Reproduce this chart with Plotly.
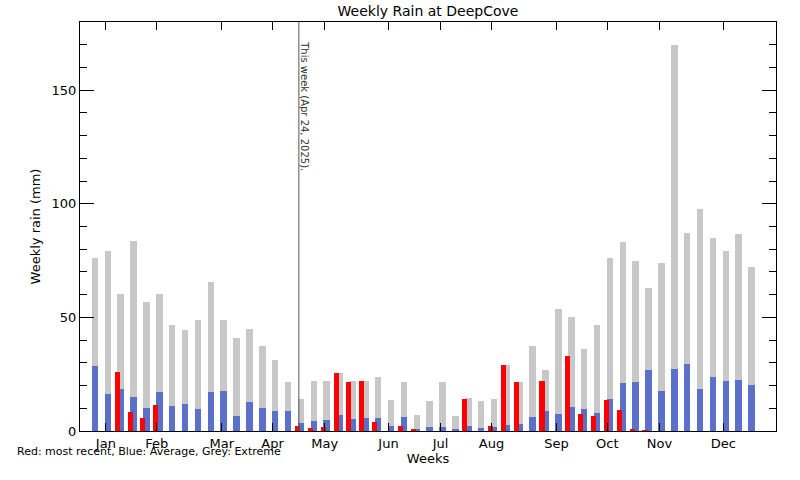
import plotly.graph_objects as go

# semanas do ano (0..51)
weeks = list(range(52))

# chuva semanal (mm)
extreme = [76.3, 79.0, 60.4, 83.8, 56.9, 60.4, 46.7, 44.5, 49.0, 65.7,
           49.0, 41.1, 45.0, 37.5, 31.3, 21.6, 14.1, 22.1, 22.1, 25.6,
           22.1, 22.1, 23.8, 13.7, 21.6, 7.1, 13.2, 21.6, 6.6, 14.6,
           13.2, 14.1, 29.1, 21.6, 37.5, 26.9, 53.8, 50.3, 36.2, 46.7,
           76.3, 83.4, 75.0, 63.1, 74.1, 169.8, 87.3, 97.5, 85.1, 79.4,
           86.9, 72.3]
average = [28.7, 16.3, 18.5, 15.0, 10.1, 17.2, 11.0, 11.9, 9.7, 17.2,
           17.6, 6.5, 12.8, 10.1, 8.8, 8.8, 3.5, 4.4, 4.9, 7.1,
           5.3, 5.7, 5.7, 2.2, 6.2, 0.9, 1.8, 1.8, 0.9, 2.2,
           1.3, 1.8, 2.6, 3.1, 6.2, 8.8, 7.5, 10.6, 9.7, 7.9,
           14.1, 21.2, 21.6, 26.9, 17.6, 27.3, 29.6, 18.5, 23.8, 22.1,
           22.5, 20.3]
recent = [0, 0, 26.0, 8.4, 5.8, 11.5, 0, 0, 0, 0,
          0, 0, 0, 0, 0, 0, 2.2, 1.3, 1.8, 25.6,
          21.6, 22.1, 4.0, 0, 2.2, 0.9, 0, 0, 0, 14.1,
          0, 2.2, 29.1, 21.6, 0, 22.1, 0, 33.1, 7.5, 6.6,
          13.7, 9.3, 0.9, 0.4, 0, 0, 0, 0, 0, 0,
          0, 0]

# meses e posição das marcas (em semanas)
months = ["Jan", "Feb", "Mar", "Apr", "May", "Jun",
          "Jul", "Aug", "Sep", "Oct", "Nov", "Dec"]
month_pos = [0.85, 4.8, 9.85, 13.8, 17.85, 22.8,
             26.85, 30.8, 35.85, 39.8, 43.85, 48.8]

this_week = 15.84
this_week_label = "This week (Apr 24, 2025)."

font = "DejaVu Sans"

fig = go.Figure()
fig.add_trace(go.Bar(x=weeks, y=extreme, width=0.5, offset=-0.25,
                     marker=dict(color="#c8c8c8", line=dict(width=0)), name="Extreme"))
fig.add_trace(go.Bar(x=weeks, y=average, width=0.5, offset=-0.25,
                     marker=dict(color="#5b70c8", line=dict(width=0)), name="Average"))
fig.add_trace(go.Bar(x=weeks, y=recent, width=0.39, offset=-0.47,
                     marker=dict(color="#ff0000", line=dict(width=0)), name="Recent"))

# linha da semana atual
fig.add_shape(type="line", x0=this_week, x1=this_week, y0=0, y1=1,
              xref="x", yref="paper", line=dict(color="#555555", width=1))
fig.add_annotation(x=this_week, y=143, xref="x", yref="y", text=this_week_label,
                   textangle=90, showarrow=False, xshift=6,
                   font=dict(family=font, size=10, color="#333333"))

# legenda em texto (abaixo do eixo, sobrepondo os meses como no original)
fig.add_annotation(x=-0.093, y=-0.049, xref="paper", yref="paper",
                   text="Red: most recent, Blue: Average, Grey: Extreme",
                   showarrow=False, xanchor="left", yanchor="middle",
                   font=dict(family=font, size=11, color="black"))

fig.update_layout(
    width=800, height=480,
    margin=dict(l=80, r=24, t=22, b=49),
    paper_bgcolor="white", plot_bgcolor="white",
    barmode="overlay", showlegend=False, bargap=0,
    title=dict(text="Weekly Rain at DeepCove", x=0.535, xanchor="center", y=0.977, yanchor="middle",
               font=dict(family=font, size=14, color="black")),
    font=dict(family=font, size=12, color="black"),
)
fig.update_xaxes(range=[-1.16, 52.9], tickmode="array", tickvals=month_pos, ticktext=months,
                 ticks="inside", ticklen=8, tickcolor="black", showline=True, linecolor="black",
                 linewidth=1, mirror="ticks", showgrid=False, zeroline=False, automargin=False,
                 title=dict(text="Weeks", standoff=2, font=dict(size=13)), tickfont=dict(size=13))
fig.update_yaxes(range=[0, 180], tickvals=[0, 50, 100, 150], ticks="inside", ticklen=14,
                 tickcolor="black", showline=True, linecolor="black", linewidth=1, mirror="ticks",
                 showgrid=False, zeroline=False, automargin=False,
                 minor=dict(dtick=10, ticks="inside", ticklen=7, tickcolor="black", showgrid=False),
                 title=dict(text="Weekly rain (mm)", standoff=8, font=dict(size=13)), tickfont=dict(size=13))

# tira a margem padrão da página para o gráfico ficar no canto
fig.write_html("out.html", config={"displayModeBar": False},
               post_script="document.body.style.margin='0';")
